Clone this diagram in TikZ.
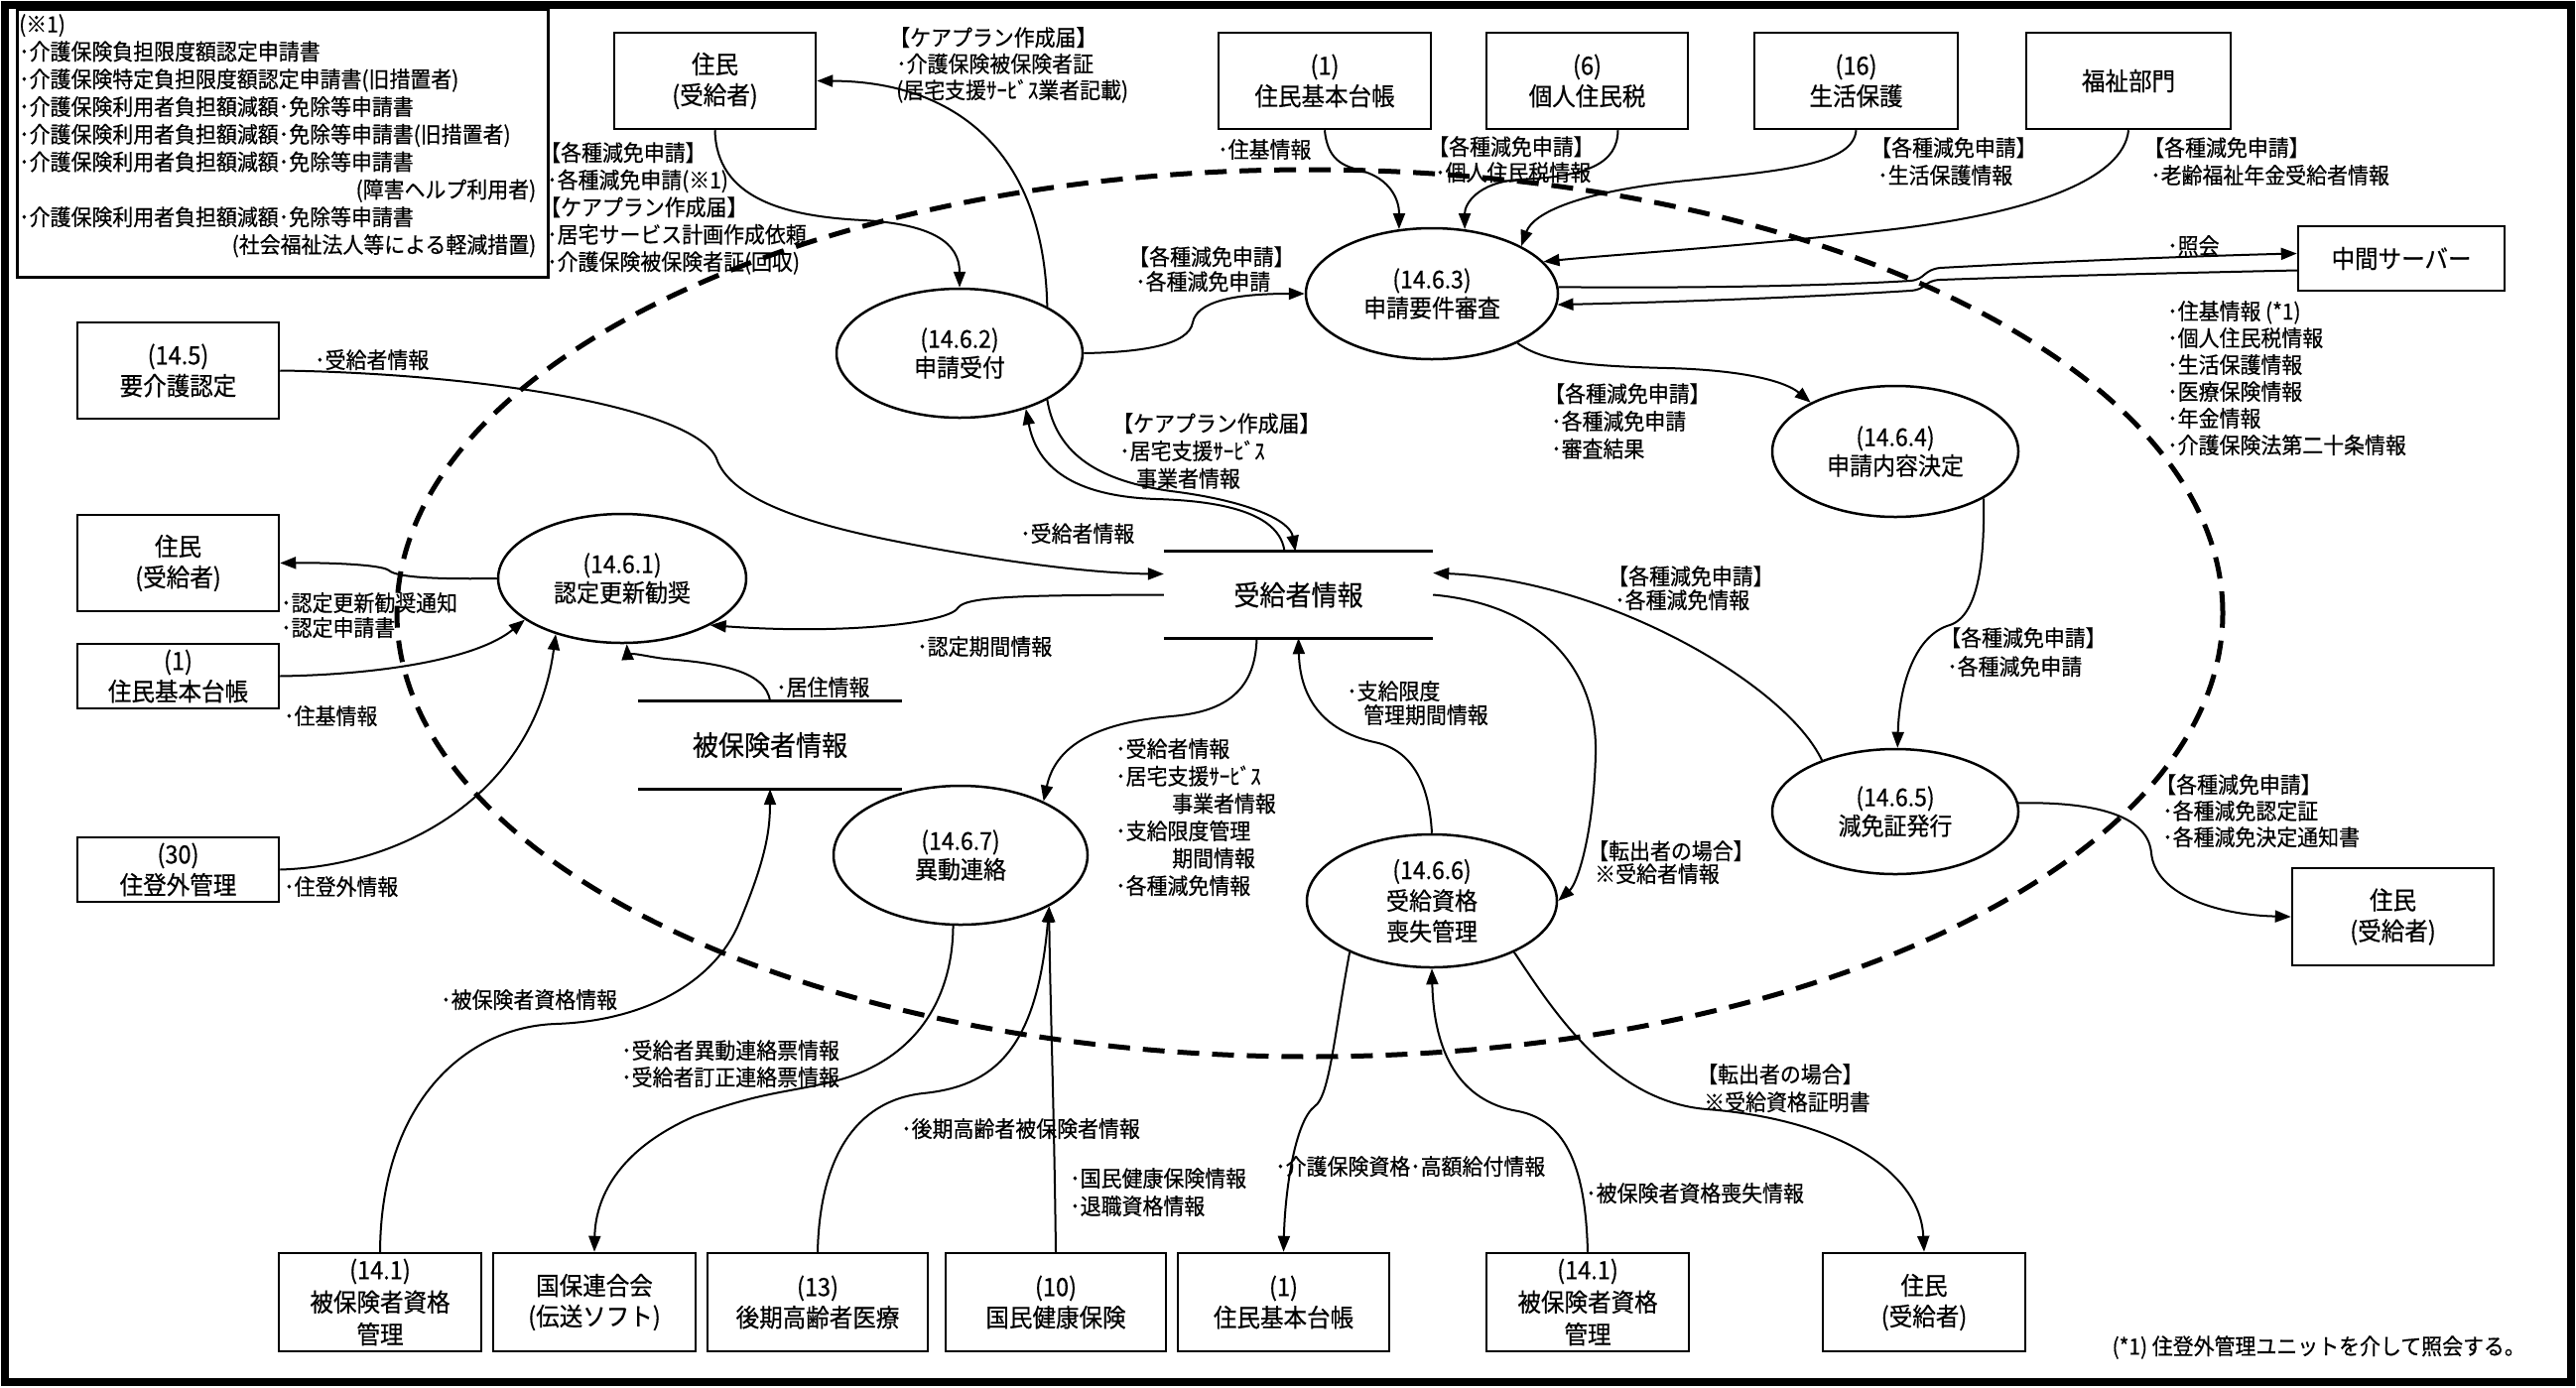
\documentclass[tikz,border=0pt]{standalone}
\usepackage{fontspec}
\setmainfont{Noto Sans CJK JP}[FakeStretch=0.93, FakeBold=0.5]
\usetikzlibrary{arrows.meta,shapes.geometric}
\setlength{\parindent}{0pt}
\newcommand{\kak}[1]{\hspace*{-7pt}【#1】}
\tikzset{
  lbl/.style={anchor=north west, inner sep=0pt, align=left, font=\fontsize{22.5}{27.8}\selectfont},
  lblskip/.style={font=\fontsize{22.5}{#1}\selectfont},
  boxn/.style={draw, line width=2.5pt, rectangle, inner sep=0pt, align=center, font=\fontsize{25.3}{31}\selectfont},
  proc/.style={draw, line width=2.5pt, ellipse, inner sep=0pt, align=center, font=\fontsize{24.7}{29}\selectfont},
  store/.style={rectangle, inner sep=0pt, font=\fontsize{28}{30}\selectfont},
  storeline/.style={line width=3pt},
  flow/.style={line width=2pt, -{Triangle[length=16pt,width=12pt]}},
  boundary/.style={draw, ellipse, inner sep=0pt, line width=5pt, dash pattern=on 22pt off 13pt},
}
\begin{document}
\begin{tikzpicture}[x=1pt,y=-1pt]
\useasboundingbox (0,0) rectangle (2596,1398);
\node[draw, line width=8pt, inner sep=0pt, minimum width=2586pt, minimum height=1388pt] (frame) at (1298,699) {};

% system boundary
\node[boundary, minimum width=1840pt, minimum height=894pt] (bound) at (1320,618) {};

% note box
\node[draw, line width=2.5pt, inner sep=0pt, anchor=north west, minimum width=535pt, minimum height=270pt] (notebox) at (16,8) {};
\node[lbl, text width=521pt] (note) at (19,14) {(※1)\\･介護保険負担限度額認定申請書\\･介護保険特定負担限度額認定申請書(旧措置者)\\･介護保険利用者負担額減額･免除等申請書\\･介護保険利用者負担額減額･免除等申請書(旧措置者)\\･介護保険利用者負担額減額･免除等申請書\\\hfill(障害ヘルプ利用者)\\･介護保険利用者負担額減額･免除等申請書\\\hfill(社会福祉法人等による軽減措置)};

% external entities
\node[boxn, minimum width=203pt, minimum height=97pt] (tres) at (720.5,81.5) {住民\\(受給者)};
\node[boxn, minimum width=214pt, minimum height=97pt] (tjuki) at (1335,81.5) {(1)\\住民基本台帳};
\node[boxn, minimum width=203pt, minimum height=97pt] (tzei) at (1599.5,81.5) {(6)\\個人住民税};
\node[boxn, minimum width=205pt, minimum height=97pt] (tseiho) at (1870.5,81.5) {(16)\\生活保護};
\node[boxn, minimum width=206pt, minimum height=97pt] (tfuku) at (2145,81.5) {福祉部門};
\node[boxn, minimum width=208pt, minimum height=65pt] (chukan) at (2420,260.5) {中間サーバー};
\node[boxn, minimum width=203pt, minimum height=97pt] (yokaigo) at (179.5,373.5) {(14.5)\\要介護認定};
\node[boxn, minimum width=203pt, minimum height=97pt] (lres) at (179.5,567.5) {住民\\(受給者)};
\node[boxn, minimum width=203pt, minimum height=65pt] (ljuki) at (179.5,681.5) {(1)\\住民基本台帳};
\node[boxn, minimum width=203pt, minimum height=65pt] (jutogai) at (179.5,876.5) {(30)\\住登外管理};
\node[boxn, minimum width=203pt, minimum height=98pt] (rres) at (2411.5,924) {住民\\(受給者)};
\node[boxn, minimum width=204pt, minimum height=99pt, font=\fontsize{25.3}{32.5}\selectfont] (b1) at (383,1312.5) {(14.1)\\被保険者資格\\管理};
\node[boxn, minimum width=204pt, minimum height=99pt] (b2) at (599,1312.5) {国保連合会\\(伝送ソフト)};
\node[boxn, minimum width=222pt, minimum height=99pt] (b3) at (824,1312.5) {(13)\\後期高齢者医療};
\node[boxn, minimum width=222pt, minimum height=99pt] (b4) at (1064,1312.5) {(10)\\国民健康保険};
\node[boxn, minimum width=213pt, minimum height=99pt] (b5) at (1293.5,1312.5) {(1)\\住民基本台帳};
\node[boxn, minimum width=204pt, minimum height=99pt, font=\fontsize{25.3}{32.5}\selectfont] (b6) at (1600,1312.5) {(14.1)\\被保険者資格\\管理};
\node[boxn, minimum width=204pt, minimum height=99pt] (b7) at (1939,1312.5) {住民\\(受給者)};

% processes
\node[proc, minimum width=250pt, minimum height=130pt] (e1) at (627,583) {(14.6.1)\\認定更新勧奨};
\node[proc, minimum width=248pt, minimum height=130pt] (e2) at (967,356) {(14.6.2)\\申請受付};
\node[proc, minimum width=254pt, minimum height=132pt] (e3) at (1443,296) {(14.6.3)\\申請要件審査};
\node[proc, minimum width=248pt, minimum height=132pt] (e4) at (1910,455) {(14.6.4)\\申請内容決定};
\node[proc, minimum width=248pt, minimum height=126pt] (e5) at (1910,818) {(14.6.5)\\減免証発行};
\node[proc, minimum width=252pt, minimum height=134pt, font=\fontsize{24.7}{31}\selectfont] (e6) at (1443,908) {(14.6.6)\\受給資格\\喪失管理};
\node[proc, minimum width=256pt, minimum height=140pt] (e7) at (968,862) {(14.6.7)\\異動連絡};

% data stores
\node[store, minimum width=271pt, minimum height=87pt] (s1) at (1308.5,599.5) {受給者情報};
\node[store, minimum width=266pt, minimum height=88pt] (s2) at (776,751) {被保険者情報};
\draw[storeline] (s1.north west) -- (s1.north east) (s1.south west) -- (s1.south east);
\draw[storeline] (s2.north west) -- (s2.north east) (s2.south west) -- (s2.south east);

% flows
\draw[flow] (tres.south) .. controls (722,200) and (790,218) .. (870,222) .. controls (940,226) and (967,245) .. (e2.north);
\draw[flow] (e2.28) .. controls (1052,150) and (960,82) .. (tres.east);
\draw[flow] (tjuki.south) .. controls (1338,165) and (1358,168) .. (1375,173) .. controls (1400,181) and (1410,200) .. (e3.117);
\draw[flow] ([xshift=31pt]tzei.south) .. controls (1630,165) and (1600,178) .. (1530,181) .. controls (1490,184) and (1476,205) .. (e3.63);
\draw[flow] (tseiho.south) .. controls (1868,165) and (1800,172) .. (1700,182) .. controls (1590,193) and (1545,215) .. (e3.28);
\draw[flow] (tfuku.south) .. controls (2140,180) and (2050,215) .. (1900,232) .. controls (1750,249) and (1620,257) .. (e3.16);
\draw[flow] (e3.3) .. controls (1750,291) and (1880,286) .. (1925,283) .. controls (1940,282) and (1938,272) .. (1955,270) .. controls (2100,262) and (2250,257) .. ([yshift=5pt]chukan.west);
\draw[flow] ([yshift=-12pt]chukan.west) .. controls (2250,274) and (2100,277) .. (1955,282) .. controls (1938,283) and (1942,292) .. (1925,293) .. controls (1880,296) and (1750,303) .. (e3.-5);
\draw[flow] (e2.east) .. controls (1150,355) and (1198,348) .. (1202,325) .. controls (1206,305) and (1240,296) .. (e3.west);
\draw[flow] (e3.-30) .. controls (1555,365) and (1600,369) .. (1680,371) .. controls (1760,373) and (1800,385) .. (e4.150);
\draw[flow] (e4.-28) .. controls (2000,560) and (1995,620) .. (1965,630) .. controls (1930,640) and (1914,690) .. (e5.88);
\draw[flow] (e5.4) .. controls (2120,808) and (2165,825) .. (2168,860) .. controls (2172,900) and (2230,922) .. (rres.west);
\draw[flow] (e5.145) .. controls (1800,690) and (1620,585) .. ([yshift=22pt]s1.east);
\draw[flow] (s1.east) .. controls (1560,610) and (1610,680) .. (1608,760) .. controls (1606,840) and (1590,890) .. (e6.east);
\draw[flow] (e6.north) .. controls (1440,785) and (1420,755) .. (1385,748) .. controls (1330,736) and (1310,700) .. (s1.south);
\draw[flow] ([xshift=-42pt]s1.south) .. controls (1265,700) and (1230,718) .. (1180,722) .. controls (1090,730) and (1062,760) .. (e7.33);
\draw[flow] ([xshift=-14pt]s1.north) .. controls (1290,520) and (1240,505) .. (1165,503) .. controls (1080,500) and (1045,470) .. (e2.-40);
\draw[flow] (e2.-28) .. controls (1065,460) and (1110,485) .. (1180,495) .. controls (1260,505) and (1300,525) .. ([xshift=-3pt]s1.north);
\draw[flow] (yokaigo.east) .. controls (480,376) and (700,410) .. (722,462) .. controls (735,500) and (800,525) .. (900,545) .. controls (1000,565) and (1100,578) .. ([yshift=21pt]s1.west);
\draw[flow] (s1.west) .. controls (1050,600) and (975,600) .. (966,612) .. controls (958,628) and (850,640) .. (e1.-28);
\draw[flow] (e1.west) .. controls (440,584) and (400,582) .. (392,575) .. controls (385,569) and (330,567) .. (lres.east);
\draw[flow] (ljuki.east) .. controls (380,680) and (480,665) .. (e1.203);
\draw[flow] (jutogai.east) .. controls (420,872) and (540,790) .. (e1.220);
\draw[flow] (s2.north) .. controls (772,675) and (720,668) .. (670,664) .. controls (640,660) and (632,655) .. (e1.-86);
\draw[flow] (b1.north) .. controls (384,1110) and (470,1035) .. (560,1032) .. controls (650,1029) and (720,990) .. (745,930) .. controls (770,870) and (776,840) .. (s2.south);
\draw[flow] (e7.-96) .. controls (960,1010) and (920,1070) .. (840,1090) .. controls (790,1102) and (770,1100) .. (700,1125) .. controls (620,1160) and (600,1210) .. (b2.north);
\draw[flow] (b3.north) .. controls (826,1170) and (860,1110) .. (930,1102) .. controls (1000,1095) and (1045,1060) .. (e7.-30);
\draw[flow] (b4.north) .. controls (1062,1100) and (1058,1000) .. (e7.-30);
\draw[flow] (e6.212) .. controls (1345,1040) and (1340,1105) .. (1325,1115) .. controls (1305,1130) and (1295,1200) .. (b5.north);
\draw[flow] (b6.north) .. controls (1598,1180) and (1580,1130) .. (1530,1120) .. controls (1470,1110) and (1445,1060) .. (e6.south);
\draw[flow] (e6.-32) .. controls (1560,1010) and (1620,1110) .. (1720,1118) .. controls (1850,1128) and (1935,1180) .. (b7.north);

% labels
\node[lbl, lblskip=26.5] (l1) at (903,27) {\kak{ケアプラン作成届}\\･介護保険被保険者証\\(居宅支援ｻｰﾋﾞｽ業者記載)};
\node[lbl, lblskip=27.5] (l2) at (551,143) {\kak{各種減免申請}\\･各種減免申請(※1)\\\kak{ケアプラン作成届}\\･居宅サービス計画作成依頼\\･介護保険被保険者証(回収)};
\node[lbl] (l3) at (1227,140) {･住基情報};
\node[lbl, lblskip=26] (l4) at (1446,137) {\kak{各種減免申請}\\･個人住民税情報};
\node[lbl] (l5) at (1892,138) {\kak{各種減免申請}\\･生活保護情報};
\node[lbl] (l6) at (2167,138) {\kak{各種減免申請}\\･老齢福祉年金受給者情報};
\node[lbl] (l7) at (2184,237) {･照会};
\node[lbl, lblskip=27] (l8) at (2184,303) {･住基情報 (*1)\\･個人住民税情報\\･生活保護情報\\･医療保険情報\\･年金情報\\･介護保険法第二十条情報};
\node[lbl, lblskip=25] (l9) at (1144,248) {\kak{各種減免申請}\\･各種減免申請};
\node[lbl] (l10) at (317,352) {･受給者情報};
\node[lbl] (l11) at (1128,416) {\kak{ケアプラン作成届}\\･居宅支援ｻｰﾋﾞｽ\\\hspace*{17pt}事業者情報};
\node[lbl] (l12) at (1028,527) {･受給者情報};
\node[lbl, lblskip=25] (l13) at (283,597) {･認定更新勧奨通知\\･認定申請書};
\node[lbl] (l14) at (286,711) {･住基情報};
\node[lbl] (l15) at (286,883) {･住登外情報};
\node[lbl] (l16) at (924,641) {･認定期間情報};
\node[lbl] (l17) at (782,682) {･居住情報};
\node[lbl] (l18) at (1563,386) {\kak{各種減免申請}\\･各種減免申請\\･審査結果};
\node[lbl, lblskip=24] (l19) at (1627,570) {\kak{各種減免申請}\\･各種減免情報};
\node[lbl, lblskip=29] (l20) at (1962,632) {\kak{各種減免申請}\\･各種減免申請};
\node[lbl, lblskip=24] (l21) at (1357,686) {･支給限度\\\hspace*{17pt}管理期間情報};
\node[lbl, lblskip=27.6] (l22) at (1124,744) {･受給者情報\\･居宅支援ｻｰﾋﾞｽ\\\hspace*{57pt}事業者情報\\･支給限度管理\\\hspace*{57pt}期間情報\\･各種減免情報};
\node[lbl, lblskip=23] (l23) at (1607,847) {\kak{転出者の場合}\\※受給者情報};
\node[lbl, lblskip=26.5] (l24) at (2179,780) {\kak{各種減免申請}\\･各種減免認定証\\･各種減免決定通知書};
\node[lbl] (l25) at (444,997) {･被保険者資格情報};
\node[lbl, lblskip=27] (l26) at (626,1048) {･受給者異動連絡票情報\\･受給者訂正連絡票情報};
\node[lbl] (l27) at (908,1127) {･後期高齢者被保険者情報};
\node[lbl, lblskip=28] (l28) at (1078,1177) {･国民健康保険情報\\･退職資格情報};
\node[lbl] (l29) at (1285,1165) {･介護保険資格･高額給付情報};
\node[lbl] (l30) at (1598,1192) {･被保険者資格喪失情報};
\node[lbl, lblskip=28] (l31) at (1717,1072) {\kak{転出者の場合}\\※受給資格証明書};
\node[lbl, anchor=east] (fn) at (2545,1358) {(*1) 住登外管理ユニットを介して照会する。};
\end{tikzpicture}
\end{document}
